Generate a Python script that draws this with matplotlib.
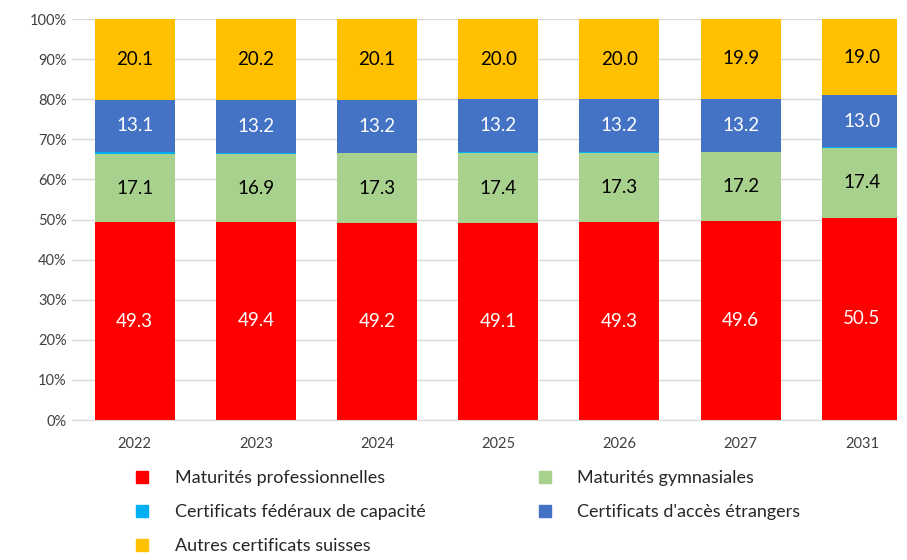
import numpy as np
import matplotlib
matplotlib.use('Agg')
import matplotlib.pyplot as plt
from matplotlib.lines import Line2D

plt.rcParams['font.family'] = ['Lato', 'DejaVu Sans']

years = ['2022', '2023', '2024', '2025', '2026', '2027', '2031']
prof = [49.3, 49.4, 49.2, 49.1, 49.3, 49.6, 50.5]
gym = [17.1, 16.9, 17.3, 17.4, 17.3, 17.2, 17.4]
cfc = [0.4, 0.3, 0.2, 0.3, 0.2, 0.1, 0.1]
etr = [13.1, 13.2, 13.2, 13.2, 13.2, 13.2, 13.0]
autres = [20.1, 20.2, 20.1, 20.0, 20.0, 19.9, 19.0]

names = ['Maturités professionnelles', 'Maturités gymnasiales',
         'Certificats fédéraux de capacité', "Certificats d'accès étrangers",
         'Autres certificats suisses']
colors = ['#ff0000', '#a9d18e', '#00b0f0', '#4472c4', '#ffc000']
label_colors = ['white', 'black', None, 'white', 'black']

series = [prof, gym, cfc, etr, autres]

fig = plt.figure(figsize=(9.07, 5.6), dpi=100)
ax = fig.add_axes([0.079, 0.25, 0.91, 0.716])

x = np.arange(len(years))
bottom = np.zeros(len(years))
for vals, c, lc in zip(series, colors, label_colors):
    vals = np.array(vals)
    ax.bar(x, vals, 0.66, bottom=bottom, color=c, zorder=2)
    if lc is not None:
        for xi, b, v in zip(x, bottom, vals):
            ax.text(xi, b + v / 2, '%.1f' % v, ha='center', va='center',
                    color=lc, fontsize=13.5, zorder=3)
    bottom = bottom + vals

ax.set_ylim(0, 100)
ax.set_xlim(-0.52, 6.29)
ax.set_yticks(np.arange(0, 101, 10))
ax.set_yticklabels(['%d%%' % v for v in range(0, 101, 10)])
ax.set_xticks(x)
ax.set_xticklabels(years)
ax.tick_params(length=0, labelsize=10.5, colors='#404040')
ax.tick_params(axis='x', pad=12)
ax.grid(axis='y', color='#d9d9d9', lw=1, zorder=0)
for s in ['top', 'right', 'left']:
    ax.spines[s].set_visible(False)
ax.spines['bottom'].set_color('#d9d9d9')

handles = [Line2D([], [], marker='s', ls='', color=c, markersize=9) for c in colors]
order = [0, 2, 4, 1, 3]
fig.legend([handles[i] for i in order], [names[i] for i in order],
           ncol=2, loc='upper left', bbox_to_anchor=(0.119, 0.19),
           frameon=False, fontsize=13, handletextpad=0.8, columnspacing=5.6,
           labelspacing=1.0, labelcolor='#262626')

fig.savefig('out.png', dpi=100)
